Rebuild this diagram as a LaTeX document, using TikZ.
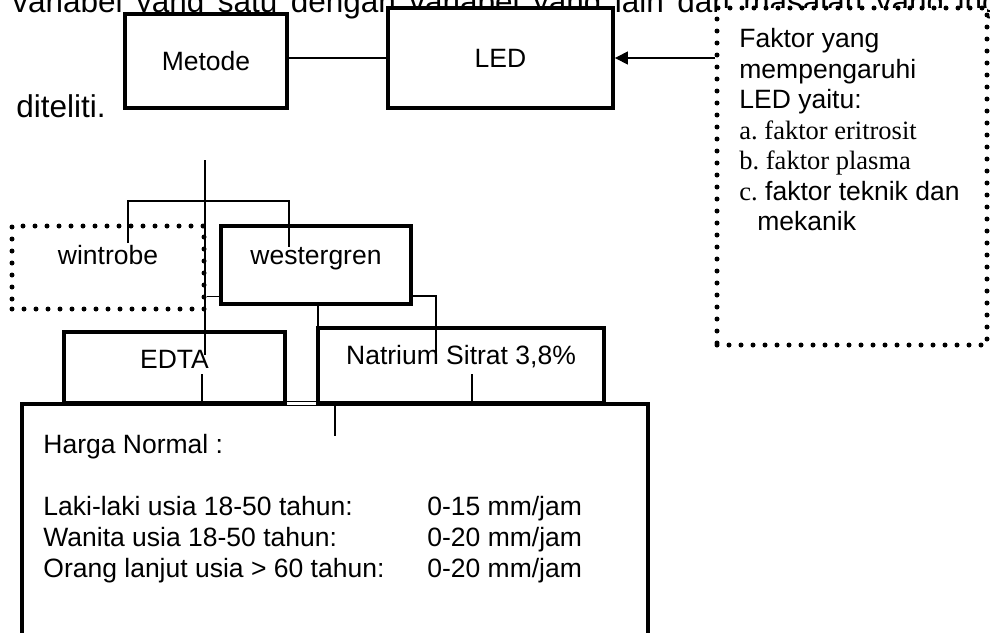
\documentclass[tikz,border=0pt]{standalone}
\usepackage{fontspec}
\setmainfont{Liberation Sans}
\newfontfamily\serifkind{Liberation Serif}
\usetikzlibrary{arrows.meta, positioning}

\begin{document}
\frenchspacing
\begin{tikzpicture}[
    x=0.5pt, y=-0.5pt,
    box/.style={rectangle, draw, line width=1.9pt, fill=white, inner sep=0pt, text height=9.5pt, text depth=0pt, font=\fontsize{13.25pt}{15.25pt}\selectfont},
    dotbox/.style={rectangle, draw, fill=white, line width=2.5pt, dash pattern=on 0pt off 6pt, line cap=round, inner sep=0pt, text height=9.5pt, text depth=0pt, font=\fontsize{13.25pt}{15.25pt}\selectfont},
    boxtext/.style={align=left, inner sep=0pt, anchor=north west, font=\fontsize{13.25pt}{15.25pt}\selectfont},
    bodytext/.style={inner sep=0pt, anchor=base west, font=\fontsize{15.75pt}{18pt}\selectfont},
    conn/.style={line width=0.6pt}
]
\useasboundingbox (0,0) rectangle (990,632);

% ============= PAGE TEXT BEHIND =============
\node[bodytext] (line1) at (12,12) {\makebox[506pt][s]{variabel yang satu dengan variabel yang lain dari masalah yang ingin}};
\node[bodytext] (line2) at (16,117) {diteliti.};

% ============= TOP ROW =============
\node[box, minimum width=81pt, minimum height=47pt] (metode) at (206,61) {Metode};
\node[box, minimum width=112.5pt, minimum height=50pt] (led) at (500.5,58) {LED};
\node[dotbox, minimum width=135pt, minimum height=168.5pt] (faktor) at (852,176.5) {};
\node[boxtext] (faktortext) at (739,28) {Faktor yang\\ mempengaruhi\\ LED yaitu:\\ {\serifkind a. faktor eritrosit}\\ {\serifkind b. faktor plasma}\\ {\serifkind c.} faktor teknik dan\\ \hspace*{9pt}mekanik};

\draw[conn] (led.west -| metode.east) -- (led.west);
\draw[conn, -{Triangle[length=6.5pt, width=6.5pt]}] (faktor.west |- led.east) -- (led.east);

% ============= METHODS =============
\node[dotbox, minimum width=96pt, minimum height=41.5pt, text depth=12.5pt] (wintrobe) at (108,267.5) {wintrobe};
\node[box, minimum width=95pt, minimum height=39pt, text depth=10.5pt] (westergren) at (316,265) {westergren};

% ============= ANTICOAGULANTS =============
\node[box, line width=2pt, minimum width=313pt, minimum height=128pt] (normal) at (335,532) {};
\node[box, minimum width=110.5pt, minimum height=35.5pt, text depth=8.5pt] (edta) at (174.5,367.5) {EDTA};
\node[box, minimum width=143pt, minimum height=37.5pt, text depth=10.5pt] (natrium) at (461,365.5) {Natrium Sitrat 3,8\%};

\node[boxtext, font=\fontsize{13.25pt}{15.5pt}\selectfont] (normaltext) at (43,434) {Harga Normal :\\[15.5pt]
    \makebox[192pt][l]{Laki-laki usia 18-50 tahun:}0-15 mm/jam\\
    \makebox[192pt][l]{Wanita usia 18-50 tahun:}0-20 mm/jam\\
    \makebox[192pt][l]{Orang lanjut usia > 60 tahun:}0-20 mm/jam};

% connectors
\coordinate (stemtop) at (205,160);
\coordinate (stembot) at (205,355);
\draw[conn] (stemtop) -- (stembot);

\coordinate (wdrop) at (128,243);
\coordinate (sdrop) at (289,247);
\draw[conn] (wdrop) -- ++(0,-42) -| (sdrop);

\draw[conn] ([yshift=7.5pt]wintrobe.south east) -- ([yshift=7.5pt]wintrobe.south east -| westergren.west);

\coordinate (cut) at (436,363);
\draw[conn] ([yshift=5pt]westergren.south east) -| (cut);
\draw[conn] ([xshift=1pt]westergren.south) -- ++(0,20);

\draw[conn] ([xshift=13.75pt]edta.south) -- ++(0,-31);
\draw[conn] ([xshift=5.5pt]natrium.south) -- ++(0,-31);
\draw[conn] (normal.north) -- ++(0,34);

\draw[line width=0.5pt, double, double distance=1.5pt] ([yshift=0.5pt]edta.south east) -- ([yshift=0.5pt]edta.south east -| natrium.south west);

\end{tikzpicture}
\end{document}
